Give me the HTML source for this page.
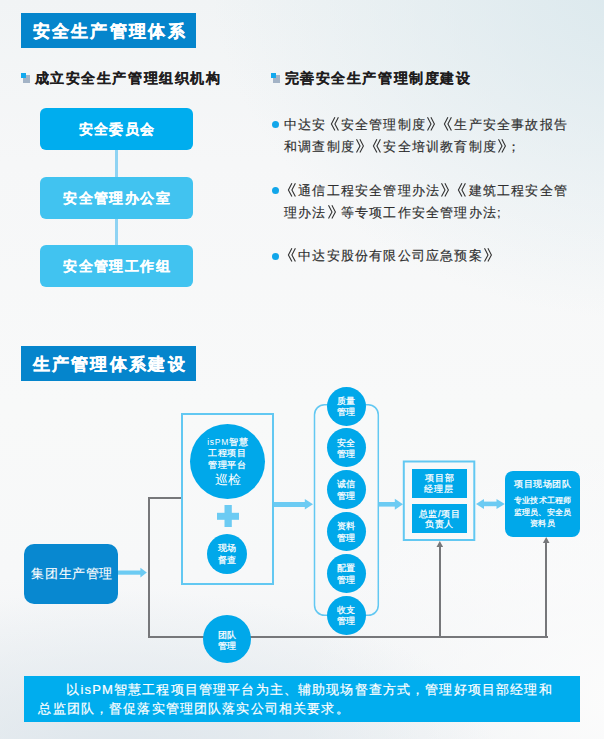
<!DOCTYPE html>
<html><head><meta charset="utf-8">
<style>
html,body{margin:0;padding:0;}
body{width:604px;height:739px;position:relative;overflow:hidden;font-family:"Liberation Sans",sans-serif;
background:radial-gradient(ellipse 440px 350px at 650px -30px, rgba(218,232,237,1), rgba(218,232,237,0) 100%),radial-gradient(ellipse 380px 170px at 120px 760px, rgba(222,230,236,1), rgba(222,230,236,0) 100%),radial-gradient(ellipse 320px 260px at 620px 700px, rgba(252,252,252,1), rgba(252,252,252,0) 100%),linear-gradient(180deg,#f1f4f5 0%,#f6f7f8 22%,#f8f9f9 55%,#f7f8f9 78%,#eef1f3 100%);}
.a{position:absolute;}
.hdr{position:absolute;left:21px;width:175px;height:35px;background:#0585cc;color:#fff;font-weight:bold;-webkit-text-stroke:0.3px #fff;font-size:17px;letter-spacing:2.3px;line-height:37px;text-indent:11.5px;white-space:nowrap;}
.sub{position:absolute;font-size:14px;font-weight:bold;color:#1e1c1d;-webkit-text-stroke:0.1px #1e1c1d;letter-spacing:1.6px;white-space:nowrap;line-height:16px;}
.ico{position:absolute;}
.ico .g{position:absolute;left:1.5px;top:2.5px;width:7px;height:7.5px;background:#a3b3c6;}
.ico .b{position:absolute;left:0;top:0;width:5px;height:5px;background:#13a9ee;}
.org{position:absolute;left:40px;width:153px;height:42px;border-radius:6px;color:#fff;font-weight:bold;-webkit-text-stroke:0.1px #fff;font-size:14px;letter-spacing:1.4px;text-indent:1.4px;text-align:center;line-height:42px;}
.bul{position:absolute;left:284px;font-size:13px;letter-spacing:1.2px;color:#2e2e2e;-webkit-text-stroke:0.15px #2e2e2e;line-height:22px;white-space:nowrap;}
.dot{position:absolute;left:271.5px;width:7px;height:7px;border-radius:50%;background:#11a6ea;}
.circ{position:absolute;border-radius:50%;background:#00a8ea;color:#fff;text-align:center;-webkit-text-stroke:0.25px #fff;}
.ws{-webkit-text-stroke:0.25px #fff;}
.c6{width:39px;height:39px;left:327px;font-size:9px;line-height:11.6px;}
.c6 div{padding-top:9.4px;position:relative;left:-0.4px;}
.q{display:inline-block;width:14.2px;height:1px;position:relative;letter-spacing:0;}
.q svg{position:absolute;left:0;top:-10.8px;overflow:visible}
.gl{position:absolute;background:#76777a;}
</style></head><body>

<div class="hdr" style="top:12.5px">安全生产管理体系</div>

<div class="ico" style="left:21px;top:72.5px"><div class="g"></div><div class="b"></div></div>
<div class="sub" style="left:34.5px;top:70px">成立安全生产管理组织机构</div>
<div class="ico" style="left:271px;top:72.5px"><div class="g"></div><div class="b"></div></div>
<div class="sub" style="left:284.5px;top:70px">完善安全生产管理制度建设</div>

<div class="a" style="left:115px;top:149px;width:3px;height:96px;background:#8fd3f3"></div>
<div class="org" style="top:108px;background:#00adee">安全委员会</div>
<div class="org" style="top:177px;background:#41c3f0">安全管理办公室</div>
<div class="org" style="top:245px;background:#41c3f0">安全管理工作组</div>

<div class="dot" style="top:121px"></div>
<div class="bul" style="top:113.5px">中达安<span class="q"><svg width="14" height="14"><polyline points="7.9,0.3 4.4,6.9 7.9,13.5" fill="none" stroke="#333" stroke-width="1.1"/><polyline points="11.4,0.3 7.9,6.9 11.4,13.5" fill="none" stroke="#333" stroke-width="1.1"/></svg></span>安全管理制度<span class="q"><svg width="14" height="14"><polyline points="1.5,0.3 5,6.9 1.5,13.5" fill="none" stroke="#333" stroke-width="1.1"/><polyline points="4.9,0.3 8.4,6.9 4.9,13.5" fill="none" stroke="#333" stroke-width="1.1"/></svg></span><span class="q"><svg width="14" height="14"><polyline points="7.9,0.3 4.4,6.9 7.9,13.5" fill="none" stroke="#333" stroke-width="1.1"/><polyline points="11.4,0.3 7.9,6.9 11.4,13.5" fill="none" stroke="#333" stroke-width="1.1"/></svg></span>生产安全事故报告<br>和调查制度<span class="q"><svg width="14" height="14"><polyline points="1.5,0.3 5,6.9 1.5,13.5" fill="none" stroke="#333" stroke-width="1.1"/><polyline points="4.9,0.3 8.4,6.9 4.9,13.5" fill="none" stroke="#333" stroke-width="1.1"/></svg></span><span class="q"><svg width="14" height="14"><polyline points="7.9,0.3 4.4,6.9 7.9,13.5" fill="none" stroke="#333" stroke-width="1.1"/><polyline points="11.4,0.3 7.9,6.9 11.4,13.5" fill="none" stroke="#333" stroke-width="1.1"/></svg></span>安全培训教育制度<span class="q"><svg width="14" height="14"><polyline points="1.5,0.3 5,6.9 1.5,13.5" fill="none" stroke="#333" stroke-width="1.1"/><polyline points="4.9,0.3 8.4,6.9 4.9,13.5" fill="none" stroke="#333" stroke-width="1.1"/></svg></span><span style="position:relative;left:-4px">；</span></div>
<div class="dot" style="top:186.5px"></div>
<div class="bul" style="top:180px"><span class="q"><svg width="14" height="14"><polyline points="7.9,0.3 4.4,6.9 7.9,13.5" fill="none" stroke="#333" stroke-width="1.1"/><polyline points="11.4,0.3 7.9,6.9 11.4,13.5" fill="none" stroke="#333" stroke-width="1.1"/></svg></span>通信工程安全管理办法<span class="q"><svg width="14" height="14"><polyline points="1.5,0.3 5,6.9 1.5,13.5" fill="none" stroke="#333" stroke-width="1.1"/><polyline points="4.9,0.3 8.4,6.9 4.9,13.5" fill="none" stroke="#333" stroke-width="1.1"/></svg></span><span class="q"><svg width="14" height="14"><polyline points="7.9,0.3 4.4,6.9 7.9,13.5" fill="none" stroke="#333" stroke-width="1.1"/><polyline points="11.4,0.3 7.9,6.9 11.4,13.5" fill="none" stroke="#333" stroke-width="1.1"/></svg></span>建筑工程安全管<br>理办法<span class="q"><svg width="14" height="14"><polyline points="1.5,0.3 5,6.9 1.5,13.5" fill="none" stroke="#333" stroke-width="1.1"/><polyline points="4.9,0.3 8.4,6.9 4.9,13.5" fill="none" stroke="#333" stroke-width="1.1"/></svg></span>等专项工作安全管理办法;</div>
<div class="dot" style="top:252.5px"></div>
<div class="bul" style="top:245px"><span class="q"><svg width="14" height="14"><polyline points="7.9,0.3 4.4,6.9 7.9,13.5" fill="none" stroke="#333" stroke-width="1.1"/><polyline points="11.4,0.3 7.9,6.9 11.4,13.5" fill="none" stroke="#333" stroke-width="1.1"/></svg></span>中达安股份有限公司应急预案<span class="q"><svg width="14" height="14"><polyline points="1.5,0.3 5,6.9 1.5,13.5" fill="none" stroke="#333" stroke-width="1.1"/><polyline points="4.9,0.3 8.4,6.9 4.9,13.5" fill="none" stroke="#333" stroke-width="1.1"/></svg></span></div>

<div class="hdr" style="top:345.5px">生产管理体系建设</div>


<!-- gray lines -->
<div class="gl" style="left:147.5px;top:497px;width:2.5px;height:141px"></div>
<div class="gl" style="left:147.5px;top:497px;width:34px;height:2px"></div>
<div class="gl" style="left:147.5px;top:636px;width:400.5px;height:2px"></div>
<div class="gl" style="left:438.7px;top:544px;width:2.2px;height:93px"></div>
<div class="gl" style="left:545.2px;top:540px;width:2.2px;height:97px"></div>
<svg class="a" style="left:0;top:0" width="604" height="739">
 <polygon points="439.8,541 436.5,547 443.1,547" fill="#76777a"/>
 <polygon points="546.2,537 542.9,543 549.5,543" fill="#76777a"/>
 <!-- light blue arrows -->
 <rect x="118" y="570.5" width="24" height="4.2" fill="#6ccbf3"/>
 <polygon points="140.4,567.7 146.8,572.6 140.4,577.4" fill="#6ccbf3"/>
 <rect x="274" y="502" width="32" height="5" fill="#6ccbf3"/>
 <polygon points="304.8,499 313,504.3 304.8,509.4" fill="#6ccbf3"/>
 <rect x="379" y="502" width="17" height="4.6" fill="#6ccbf3"/>
 <polygon points="394.8,498.7 403,504.3 394.8,509.8" fill="#6ccbf3"/>
 <rect x="482" y="501.6" width="16" height="4.6" fill="#6ccbf3"/>
 <polygon points="484,499 476,503.9 484,509" fill="#6ccbf3"/>
 <polygon points="496.5,499 504.8,503.9 496.5,509" fill="#6ccbf3"/>
 <!-- platform rect -->
 <rect x="182" y="414" width="91" height="170" fill="none" stroke="#62c8f2" stroke-width="2"/>
 <!-- plus -->
 <rect x="224.5" y="505" width="7.3" height="22" fill="#6ccbf3"/>
 <rect x="217" y="512.8" width="22" height="7" fill="#6ccbf3"/>
 <!-- bracket -->
 <rect x="314.5" y="404.7" width="63.8" height="210.6" rx="10" fill="none" stroke="#62c8f2" stroke-width="1.5"/>
 <!-- project box outer -->
 <rect x="403.8" y="461.5" width="70.5" height="78.5" fill="none" stroke="#62c8f2" stroke-width="2"/>
</svg>

<div class="circ" style="left:190px;top:424px;width:75px;height:75px;">
 <div style="position:absolute;left:0;top:13px;width:75px;font-size:8.5px;line-height:11.3px;letter-spacing:0.7px;text-indent:0.7px"><span style="-webkit-text-stroke:0">isPM</span>智慧<br>工程项目<br>管理平台</div>
 <div style="position:absolute;left:0;top:49px;width:75px;font-size:12.5px;line-height:14px;-webkit-text-stroke:0">巡检</div>
</div>
<div class="circ" style="left:207.2px;top:534px;width:40px;height:40px;font-size:9px;line-height:12px"><div style="padding-top:8px">现场<br>督查</div></div>
<div class="circ" style="left:202.5px;top:614.7px;width:48px;height:48px;font-size:9px;line-height:10.2px"><div style="padding-top:15.8px;position:relative;left:0.5px">团队<br>管理</div></div>

<div class="circ c6" style="top:386.5px"><div>质量<br>管理</div></div>
<div class="circ c6" style="top:428.3px"><div>安全<br>管理</div></div>
<div class="circ c6" style="top:470.1px"><div>诚信<br>管理</div></div>
<div class="circ c6" style="top:511.9px"><div>资料<br>管理</div></div>
<div class="circ c6" style="top:553.7px"><div>配置<br>管理</div></div>
<div class="circ c6" style="top:595.5px"><div>收支<br>管理</div></div>

<div class="a" style="left:411.7px;top:469px;width:55.3px;height:28.7px;background:#00a8ea;color:#fff;-webkit-text-stroke:0.25px #fff;font-size:9px;line-height:10.6px;text-align:center;letter-spacing:0.9px;text-indent:0.9px"><div style="padding-top:4px">项目部<br>经理层</div></div>
<div class="a" style="left:411.7px;top:504px;width:55.3px;height:28.5px;background:#00a8ea;color:#fff;-webkit-text-stroke:0.25px #fff;font-size:9px;line-height:10.2px;text-align:center;letter-spacing:0.6px;text-indent:0.6px"><div style="padding-top:5px">总监/项目<br>负责人</div></div>

<div class="a" style="left:504.8px;top:471px;width:75.5px;height:65.5px;border-radius:8px;background:#00a8ea;color:#fff;text-align:center;-webkit-text-stroke:0.25px #fff">
 <div style="position:absolute;left:0;top:7px;width:75.5px;font-size:9px;letter-spacing:0.5px;text-indent:0.5px;line-height:12px">项目现场团队</div>
 <div style="position:absolute;left:0;top:24px;width:75.5px;font-size:8.3px;letter-spacing:0.2px;text-indent:0.2px;line-height:11.5px">专业技术工程师<br>监理员、安全员<br>资料员</div>
</div>

<div class="a" style="left:24.4px;top:543.7px;width:93.6px;height:60px;border-radius:10px;background:#0888d0;color:#fff;font-size:13px;letter-spacing:0.6px;text-indent:2px;-webkit-text-stroke:0.1px #fff;line-height:60px;text-align:center;white-space:nowrap">集团生产管理</div>

<div class="a" style="left:24.4px;top:675.7px;width:555.6px;height:46px;background:#00adee;color:#fff;font-size:13px;letter-spacing:1.15px;-webkit-text-stroke:0.2px #fff;line-height:19.5px;">
 <div style="position:absolute;left:14px;top:4px;width:540px;text-indent:28px">以isPM智慧工程项目管理平台为主、辅助现场督查方式，管理好项目部经理和<br>总监团队，督促落实管理团队落实公司相关要求。</div>
</div>

</body></html>
